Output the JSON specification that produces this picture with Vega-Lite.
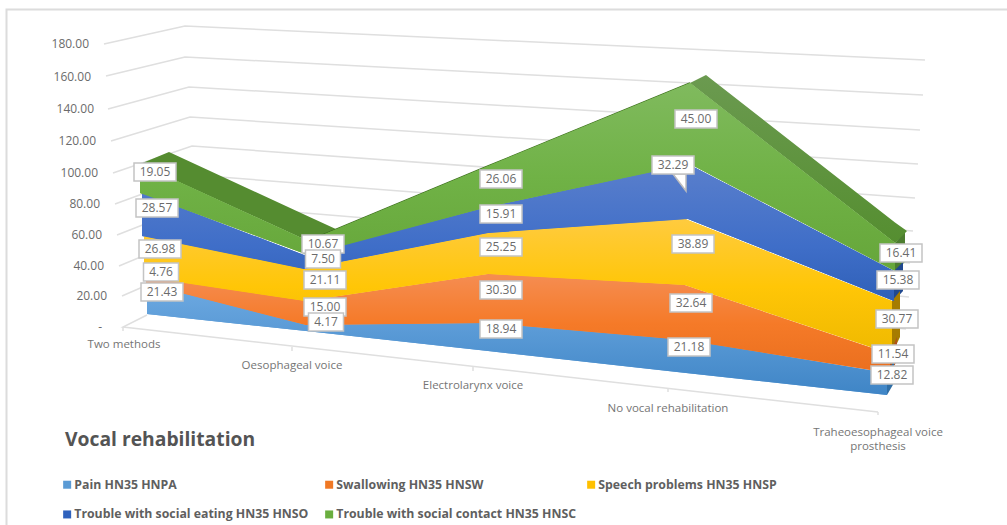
{"$schema":"https://vega.github.io/schema/vega-lite/v6.json","width":1007,"height":525,"autosize":"none","padding":0,"background":"white","config":{"view":{"stroke":null},"text":{"font":"Open Sans"}},
"datasets":{
"bands":[
{"series":"Pain HN35 HNPA","category":"Two methods","value":21.43,"pos":1.47,"low":8.27,"high":27.34},
{"series":"Pain HN35 HNPA","category":"Oesophageal voice","value":4.17,"pos":3.06,"low":-2.54,"high":1.27},
{"series":"Pain HN35 HNPA","category":"Electrolarynx voice","value":18.94,"pos":4.88,"low":-15.26,"high":2.54},
{"series":"Pain HN35 HNPA","category":"No vocal rehabilitation","value":21.18,"pos":6.86,"low":-29.25,"high":-8.27},
{"series":"Pain HN35 HNPA","category":"Traheoesophageal voice prosthesis","value":12.82,"pos":8.87,"low":-43.24,"high":-29.25},
{"series":"Swallowing HN35 HNSW","category":"Two methods","value":4.76,"pos":1.46,"low":27.34,"high":31.8},
{"series":"Swallowing HN35 HNSW","category":"Oesophageal voice","value":15.0,"pos":3.06,"low":1.27,"high":16.53},
{"series":"Swallowing HN35 HNSW","category":"Electrolarynx voice","value":30.3,"pos":4.89,"low":2.54,"high":33.7},
{"series":"Swallowing HN35 HNSW","category":"No vocal rehabilitation","value":32.64,"pos":6.84,"low":-8.27,"high":26.71},
{"series":"Swallowing HN35 HNSW","category":"Traheoesophageal voice prosthesis","value":11.54,"pos":8.9,"low":-29.25,"high":-17.17},
{"series":"Speech problems HN35 HNSP","category":"Two methods","value":26.98,"pos":1.44,"low":31.8,"high":57.87},
{"series":"Speech problems HN35 HNSP","category":"Oesophageal voice","value":21.11,"pos":3.05,"low":16.53,"high":36.88},
{"series":"Speech problems HN35 HNSP","category":"Electrolarynx voice","value":25.25,"pos":4.88,"low":33.7,"high":59.78},
{"series":"Speech problems HN35 HNSP","category":"No vocal rehabilitation","value":38.89,"pos":6.85,"low":26.71,"high":68.68},
{"series":"Speech problems HN35 HNSP","category":"Traheoesophageal voice prosthesis","value":30.77,"pos":8.92,"low":-17.17,"high":16.53},
{"series":"Trouble with social eating HN35 HNSO","category":"Two methods","value":28.57,"pos":1.42,"low":57.87,"high":85.21},
{"series":"Trouble with social eating HN35 HNSO","category":"Oesophageal voice","value":7.5,"pos":3.04,"low":36.88,"high":45.79},
{"series":"Trouble with social eating HN35 HNSO","category":"Electrolarynx voice","value":15.91,"pos":4.88,"low":59.78,"high":76.31},
{"series":"Trouble with social eating HN35 HNSO","category":"No vocal rehabilitation","value":32.29,"pos":6.88,"low":68.68,"high":103.66},
{"series":"Trouble with social eating HN35 HNSO","category":"Traheoesophageal voice prosthesis","value":15.38,"pos":8.94,"low":16.53,"high":35.61},
{"series":"Trouble with social contact HN35 HNSC","category":"Two methods","value":19.05,"pos":1.4,"low":85.21,"high":103.66},
{"series":"Trouble with social contact HN35 HNSC","category":"Oesophageal voice","value":10.67,"pos":3.08,"low":45.79,"high":54.69},
{"series":"Trouble with social contact HN35 HNSC","category":"Electrolarynx voice","value":26.06,"pos":4.88,"low":76.31,"high":102.38},
{"series":"Trouble with social contact HN35 HNSC","category":"No vocal rehabilitation","value":45.0,"pos":6.9,"low":103.66,"high":155.17},
{"series":"Trouble with social contact HN35 HNSC","category":"Traheoesophageal voice prosthesis","value":16.41,"pos":8.95,"low":35.61,"high":53.42}],
"faces":[
{"face":"topLeft","pos":1.4,"low":103.66,"high":103.66},{"face":"topLeft","pos":1.69,"low":95.13,"high":111.29},{"face":"topLeft","pos":3.08,"low":54.69,"high":70.46},{"face":"topLeft","pos":3.38,"low":61.69,"high":61.69},
{"face":"sideContact","pos":8.95,"low":35.61,"high":53.42},{"face":"sideContact","pos":9.05,"low":41.34,"high":61.05},
{"face":"sideEating","pos":8.94,"low":16.53,"high":35.61},{"face":"sideEating","pos":9.03,"low":22.89,"high":41.34},
{"face":"sideSpeech","pos":8.92,"low":-17.17,"high":16.53},{"face":"sideSpeech","pos":9.0,"low":-6.36,"high":22.89},
{"face":"sideSwallowing","pos":8.9,"low":-29.25,"high":-17.17},{"face":"sideSwallowing","pos":8.97,"low":-21.62,"high":-6.36},
{"face":"sidePain","pos":8.87,"low":-43.24,"high":-29.25},{"face":"sidePain","pos":8.94,"low":-35.61,"high":-21.62}],
"topRight":[{"pos":6.9,"low":155.17,"high":155.17},{"pos":7.06,"low":147.22,"high":160.25},{"pos":8.95,"low":53.42,"high":66.52},{"pos":9.07,"low":61.05,"high":61.05}],
"ridge":[{"pos":3.08,"level":54.69},{"pos":4.88,"level":102.38},{"pos":6.9,"level":155.17}],
"grid":[
{"tick":"180","step":1,"pos":1.04,"level":180},{"tick":"180","step":2,"pos":1.85,"level":191.42},{"tick":"180","step":3,"pos":9.25,"level":169.79},
{"tick":"160","step":1,"pos":1.06,"level":159.62},{"tick":"160","step":2,"pos":1.85,"level":171.7},{"tick":"160","step":3,"pos":9.23,"level":147.54},
{"tick":"140","step":1,"pos":1.08,"level":138.63},{"tick":"140","step":2,"pos":1.89,"level":152.62},{"tick":"140","step":3,"pos":9.2,"level":125.28},
{"tick":"120","step":1,"pos":1.11,"level":118.28},{"tick":"120","step":2,"pos":1.9,"level":133.55},{"tick":"120","step":3,"pos":9.18,"level":103.66},
{"tick":"100","step":1,"pos":1.13,"level":97.93},{"tick":"100","step":2,"pos":1.92,"level":115.1},{"tick":"100","step":3,"pos":9.15,"level":82.04},
{"tick":"80","step":1,"pos":1.15,"level":78.22},{"tick":"80","step":2,"pos":1.94,"level":96.66},{"tick":"80","step":3,"pos":9.13,"level":61.05},
{"tick":"60","step":1,"pos":1.17,"level":58.51},{"tick":"60","step":2,"pos":1.96,"level":78.22},{"tick":"60","step":3,"pos":9.1,"level":40.7},
{"tick":"40","step":1,"pos":1.19,"level":38.79},{"tick":"40","step":2,"pos":1.98,"level":59.78},{"tick":"40","step":3,"pos":9.09,"level":19.08},
{"tick":"20","step":1,"pos":1.22,"level":19.71},{"tick":"20","step":2,"pos":2.0,"level":41.34},{"tick":"20","step":3,"pos":9.06,"level":-1.27},
{"tick":"0","step":1,"pos":1.47,"level":7.63},{"tick":"0","step":2,"pos":1.23,"level":0},{"tick":"0","step":3,"pos":8.78,"level":-54.05}],
"ticks":[{"pos":1.23,"low":-2.54,"high":0},{"pos":2.92,"low":-15.26,"high":-12.72},{"pos":4.73,"low":-27.98,"high":-25.44},{"pos":6.68,"low":-41.34,"high":-39.43},{"pos":8.78,"low":-55.96,"high":-54.05}],
"frame":[{"step":1,"pos":0.065,"level":-125.9},{"step":2,"pos":0.065,"level":201.9},{"step":3,"pos":10.07,"level":201.9}],
"yLabels":[{"t":"180.00","pos":0.89,"level":180},{"t":"160.00","pos":0.91,"level":158.98},{"t":"140.00","pos":0.94,"level":138.63},{"t":"120.00","pos":0.96,"level":118.28},{"t":"100.00","pos":0.98,"level":97.93},{"t":"80.00","pos":1.0,"level":78.22},{"t":"60.00","pos":1.02,"level":58.51},{"t":"40.00","pos":1.04,"level":38.79},{"t":"20.00","pos":1.07,"level":19.71},{"t":"-","pos":1.02,"level":0}],
"xLabels":[{"t":"Two methods","pos":1.24,"level":-11.45},{"t":"Oesophageal voice","pos":2.92,"level":-24.8},{"t":"Electrolarynx voice","pos":4.73,"level":-37.52},{"t":"No vocal rehabilitation","pos":6.68,"level":-52.15},{"t":"Traheoesophageal voice","pos":8.78,"level":-67.41},{"t":"prosthesis","pos":8.78,"level":-76.31}],
"pointer":[{"pos":6.73,"low":97.3,"high":97.3},{"pos":6.86,"low":86.49,"high":97.3}],
"labels":[
{"t":"4.76","pos":1.61,"level":34.98},{"t":"21.43","pos":1.62,"level":22.26},{"t":"26.98","pos":1.6,"level":49.6},{"t":"28.57","pos":1.57,"level":75.68},{"t":"19.05","pos":1.55,"level":98.57},
{"t":"7.50","pos":3.23,"level":43.24},{"t":"10.67","pos":3.23,"level":52.78},{"t":"21.11","pos":3.25,"level":29.89},{"t":"4.17","pos":3.26,"level":3.18},{"t":"15.00","pos":3.25,"level":12.72},
{"t":"26.06","pos":5.01,"level":94.12},{"t":"15.91","pos":5.01,"level":71.86},{"t":"25.25","pos":5.01,"level":50.87},{"t":"30.30","pos":5.01,"level":23.53},{"t":"18.94","pos":5.01,"level":-1.27},
{"t":"45.00","pos":6.96,"level":132.27},{"t":"32.29","pos":6.73,"level":103.02},{"t":"38.89","pos":6.93,"level":52.78},{"t":"32.64","pos":6.91,"level":15.26},{"t":"21.18","pos":6.89,"level":-12.72},
{"t":"16.41","pos":9.01,"level":47.06},{"t":"15.38","pos":8.98,"level":29.89},{"t":"30.77","pos":8.97,"level":5.09},{"t":"11.54","pos":8.93,"level":-17.17},{"t":"12.82","pos":8.92,"level":-30.53}]
},
"encoding":{"x":{"field":"pos","type":"quantitative","scale":{"domain":[0,10.07]},"axis":null},"y":{"type":"quantitative","scale":{"domain":[-125.91,207.95]},"axis":null}},
"layer":[
{"data":{"name":"frame"},"mark":{"type":"line","color":"#dcdcdc","strokeWidth":2},"encoding":{"y":{"field":"level","type":"quantitative","axis":null},"order":{"field":"step"}}},
{"data":{"name":"grid"},"mark":{"type":"line","color":"#dfdfdf","strokeWidth":1.5},"encoding":{"y":{"field":"level","type":"quantitative","axis":null},"detail":{"field":"tick"},"order":{"field":"step"}}},
{"data":{"name":"ticks"},"mark":{"type":"rule","color":"#dfdfdf","strokeWidth":1.5},"encoding":{"y":{"field":"low","type":"quantitative","axis":null},"y2":{"field":"high"}}},
{"data":{"name":"yLabels"},"mark":{"type":"text","align":"right","baseline":"middle","fontSize":12,"color":"#6b6b6b"},"encoding":{"y":{"field":"level","type":"quantitative","axis":null},"text":{"field":"t"}}},
{"data":{"name":"xLabels"},"mark":{"type":"text","align":"center","baseline":"middle","fontSize":11.5,"color":"#757575"},"encoding":{"y":{"field":"level","type":"quantitative","axis":null},"text":{"field":"t"}}},
{"data":{"name":"faces"},"mark":{"type":"area"},"encoding":{"y":{"field":"low","type":"quantitative","stack":null,"axis":null},"y2":{"field":"high"},"fill":{"field":"face","type":"nominal","legend":null,"scale":{"domain":["topLeft","sideContact","sideEating","sideSpeech","sideSwallowing","sidePain"],"range":["#558c30","#4c7d2f","#20488f","#a67c00","#b0501a","#2f6ea5"]}}}},
{"data":{"name":"topRight"},"mark":{"type":"area","color":{"gradient":"linear","x1":0,"y1":0,"x2":0,"y2":1,"stops":[{"offset":0,"color":"#6b9a50"},{"offset":1,"color":"#558e30"}]}},"encoding":{"y":{"field":"low","type":"quantitative","stack":null,"axis":null},"y2":{"field":"high"}}},
{"data":{"name":"ridge"},"mark":{"type":"line","color":"#3f7020","strokeWidth":1.5},"encoding":{"y":{"field":"level","type":"quantitative","axis":null}}},
{"data":{"name":"bands"},"mark":{"type":"area"},"encoding":{"y":{"field":"low","type":"quantitative","stack":null,"axis":null},"y2":{"field":"high"},"color":{"field":"series","type":"nominal","scale":{"domain":["Pain HN35 HNPA","Swallowing HN35 HNSW","Speech problems HN35 HNSP","Trouble with social eating HN35 HNSO","Trouble with social contact HN35 HNSC"],"range":["#5b9bd5","#f07824","#ffc000","#2f62bd","#6aae3f"]},"legend":{"orient":"none","direction":"horizontal","gridAlign":"all","legendX":65,"legendY":431,"columns":3,"title":"Vocal rehabilitation","titleFont":"Open Sans","titleFontSize":19.3,"titleFontWeight":"bold","titleColor":"#545454","titleLimit":500,"titlePadding":28,"labelFont":"Open Sans","labelFontSize":12.3,"labelFontWeight":"bold","labelColor":"#5f5f5f","labelLimit":400,"symbolType":"square","symbolSize":64,"symbolStrokeWidth":0,"symbolOpacity":1,"symbolOffset":-4,"rowPadding":17,"columnPadding":10,"labelOffset":1}}}},
{"data":{"name":"bands"},"transform":[{"filter":"datum.series==='Pain HN35 HNPA'"}],"mark":{"type":"area","color":{"gradient":"linear","x1":0,"y1":0,"x2":0,"y2":1,"stops":[{"offset":0,"color":"#6eaae2"},{"offset":1,"color":"#3f85c6"}]}},"encoding":{"y":{"field":"low","type":"quantitative","stack":null,"axis":null},"y2":{"field":"high"}}},
{"data":{"name":"bands"},"transform":[{"filter":"datum.series==='Swallowing HN35 HNSW'"}],"mark":{"type":"area","color":{"gradient":"linear","x1":0,"y1":0,"x2":0,"y2":1,"stops":[{"offset":0,"color":"#f58d52"},{"offset":0.5,"color":"#f57a28"},{"offset":1,"color":"#ea6f1e"}]}},"encoding":{"y":{"field":"low","type":"quantitative","stack":null,"axis":null},"y2":{"field":"high"}}},
{"data":{"name":"bands"},"transform":[{"filter":"datum.series==='Speech problems HN35 HNSP'"}],"mark":{"type":"area","color":{"gradient":"linear","x1":0,"y1":0,"x2":0,"y2":1,"stops":[{"offset":0,"color":"#ffcb3f"},{"offset":0.5,"color":"#ffc607"},{"offset":1,"color":"#efb900"}]}},"encoding":{"y":{"field":"low","type":"quantitative","stack":null,"axis":null},"y2":{"field":"high"}}},
{"data":{"name":"bands"},"transform":[{"filter":"datum.series==='Trouble with social eating HN35 HNSO'"}],"mark":{"type":"area","color":{"gradient":"linear","x1":0,"y1":0,"x2":0,"y2":1,"stops":[{"offset":0,"color":"#5a7fcc"},{"offset":0.6,"color":"#3f6ec8"},{"offset":1,"color":"#2f60b8"}]}},"encoding":{"y":{"field":"low","type":"quantitative","stack":null,"axis":null},"y2":{"field":"high"}}},
{"data":{"name":"bands"},"transform":[{"filter":"datum.series==='Trouble with social contact HN35 HNSC'"}],"mark":{"type":"area","color":{"gradient":"linear","x1":0,"y1":0,"x2":0,"y2":1,"stops":[{"offset":0,"color":"#80ba5e"},{"offset":0.5,"color":"#70b246"},{"offset":1,"color":"#66a63a"}]}},"encoding":{"y":{"field":"low","type":"quantitative","stack":null,"axis":null},"y2":{"field":"high"}}},
{"data":{"name":"pointer"},"mark":{"type":"area","fill":"white","stroke":"#bdbdbd","strokeWidth":1.5},"encoding":{"y":{"field":"low","type":"quantitative","stack":null,"axis":null},"y2":{"field":"high"}}},
{"data":{"name":"labels"},"transform":[{"filter":"length(datum.t)>4"}],"mark":{"type":"rect","width":42,"height":18,"fill":"white","stroke":"#c4c4c4","strokeWidth":1.5},"encoding":{"y":{"field":"level","type":"quantitative","axis":null}}},
{"data":{"name":"labels"},"transform":[{"filter":"length(datum.t)<=4"}],"mark":{"type":"rect","width":35,"height":18,"fill":"white","stroke":"#c4c4c4","strokeWidth":1.5},"encoding":{"y":{"field":"level","type":"quantitative","axis":null}}},
{"data":{"name":"labels"},"mark":{"type":"text","align":"center","baseline":"middle","fontSize":12,"color":"#6b6b6b"},"encoding":{"y":{"field":"level","type":"quantitative","axis":null},"text":{"field":"t"}}}
]}
